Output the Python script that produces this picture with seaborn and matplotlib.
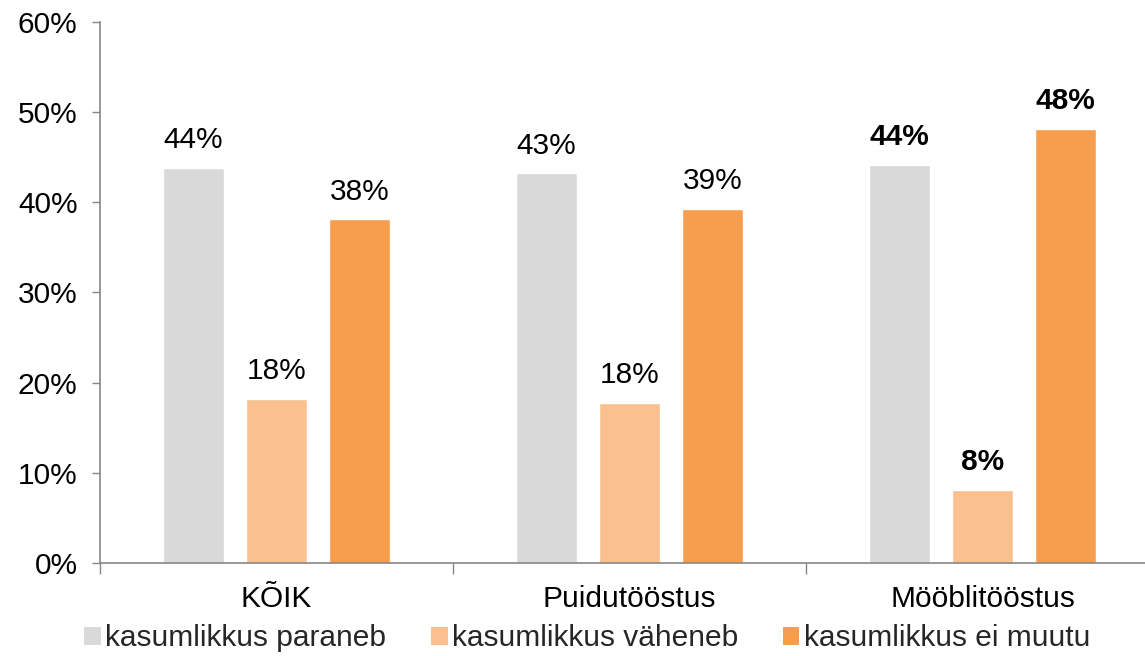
import pandas as pd
import matplotlib.pyplot as plt
import seaborn as sns
from matplotlib.ticker import FixedLocator, PercentFormatter
from matplotlib.patches import Patch

sns.set_theme(style="white")
plt.rcParams['font.family'] = ['Liberation Sans', 'DejaVu Sans']

categories = ['KÕIK', 'Puidutööstus', 'Mööblitööstus']
series = ['kasumlikkus paraneb', 'kasumlikkus väheneb', 'kasumlikkus ei muutu']
paraneb = [43.8, 43.2, 44.1]
vaheneb = [18.2, 17.7, 8.1]
ei_muutu = [38.1, 39.3, 48.1]
labels = {
    'kasumlikkus paraneb': ['44%', '43%', '44%'],
    'kasumlikkus väheneb': ['18%', '18%', '8%'],
    'kasumlikkus ei muutu': ['38%', '39%', '48%'],
}
bold_category = 'Mööblitööstus'

colors = ['#D9D9D9', '#FAC08F', '#F79E4E']
palette = dict(zip(series, colors))

df = pd.DataFrame({
    'Kategooria': categories * 3,
    'Seeria': [s for s in series for _ in categories],
    'Väärtus': paraneb + vaheneb + ei_muutu,
})

FS = 21.5

fig = plt.figure(figsize=(11.45, 6.56), dpi=100)
ax = fig.add_axes([0.0873, 0.1418, 0.9127, 0.8247])

sns.barplot(data=df, x='Kategooria', y='Väärtus', hue='Seeria', order=categories,
            hue_order=series, palette=palette, width=0.705, gap=0.265,
            saturation=1, legend=False, ax=ax)

for cont, s in zip(ax.containers, series):
    texts = ax.bar_label(cont, labels=labels[s], padding=10, fontsize=FS, color='black')
    for t, c in zip(texts, categories):
        if c == bold_category:
            t.set_fontweight('bold')

ax.set_ylim(0, 60)
ax.set_xlim(-0.5, 2.46)
ax.yaxis.set_major_locator(FixedLocator([0, 10, 20, 30, 40, 50, 60]))
ax.yaxis.set_major_formatter(PercentFormatter(decimals=0))
ax.xaxis.set_minor_locator(FixedLocator([-0.5, 0.5, 1.5, 2.5]))
ax.tick_params(axis='x', which='major', length=0, pad=16, labelsize=FS, colors='black')
ax.tick_params(axis='x', which='minor', bottom=True, length=8, width=1, color='#868686', direction='out')
ax.tick_params(axis='y', left=True, length=6, width=1, color='#868686', direction='out',
               pad=10, labelsize=FS, labelcolor='black')
ax.set_xlabel('')
ax.set_ylabel('')

sns.despine(ax=ax)
for side in ['left', 'bottom']:
    ax.spines[side].set_color('#868686')
    ax.spines[side].set_linewidth(1.2)

handles = [Patch(facecolor=palette[s], edgecolor='none', label=s) for s in series]
fig.legend(handles=handles, loc='center', bbox_to_anchor=(0.513, 0.027), ncol=3,
           frameon=False, fontsize=FS, handlelength=0.55, handleheight=0.55,
           handletextpad=0.15, columnspacing=1.5)

fig.savefig('out.png', dpi=100)
